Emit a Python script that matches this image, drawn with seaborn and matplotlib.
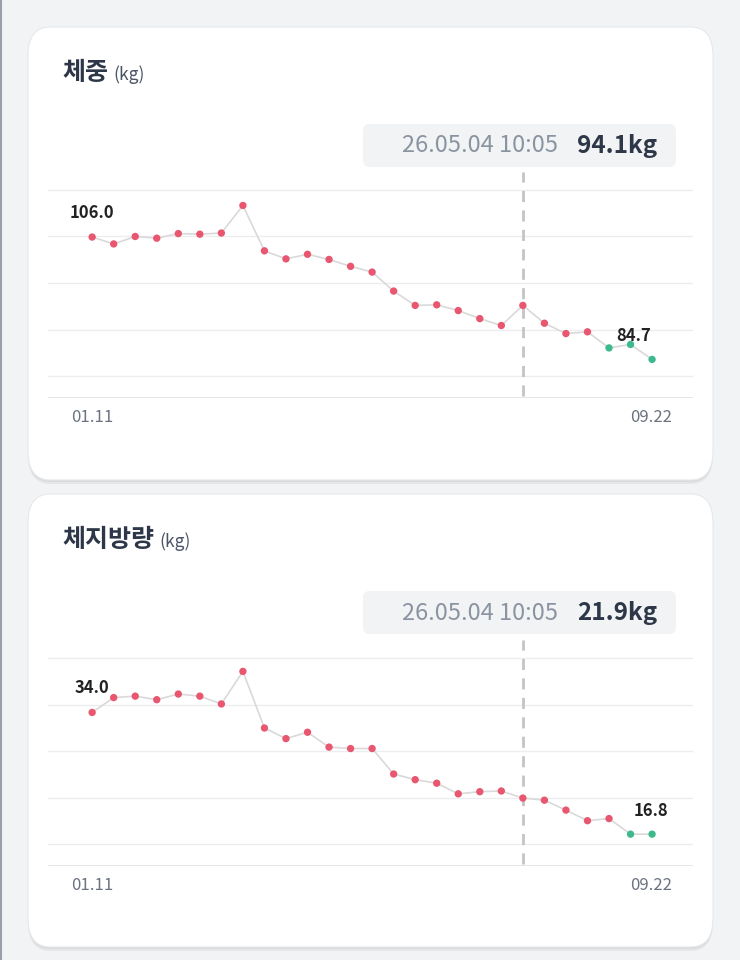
import numpy as np
import pandas as pd
import matplotlib
matplotlib.use("Agg")
import matplotlib.pyplot as plt
import seaborn as sns
from matplotlib.patches import FancyBboxPatch

sns.set_theme(style="white")
plt.rcParams['font.family'] = ['Noto Sans CJK KR', 'DejaVu Sans']

# data
weight = [106.0, 104.8, 106.1, 105.8, 106.6, 106.5, 106.7, 111.5, 103.6, 102.2,
          103.0, 102.1, 100.9, 99.9, 96.6, 94.1, 94.2, 93.2, 91.8, 90.6,
          94.1, 91.0, 89.2, 89.5, 86.7, 87.3, 84.7]
fat = [34.0, 36.1, 36.3, 35.8, 36.6, 36.3, 35.2, 39.8, 31.8, 30.3,
       31.2, 29.1, 28.9, 28.9, 25.3, 24.5, 24.0, 22.5, 22.8, 22.9,
       21.9, 21.6, 20.2, 18.7, 19.0, 16.8, 16.8]
weight_recent = 3
fat_recent = 2
first_date, last_date = "01.11", "09.22"
cursor_idx = 20
cursor_time = "26.05.04 10:05"
weight_grid = [114.2, 106.1, 98.0, 89.9, 81.8]
fat_grid = [41.7, 35.1, 28.5, 21.9, 15.4]

RED = "#e8566f"
GREEN = "#3dba8c"
DARK = "#2d3748"

fig = plt.figure(figsize=(7.4, 9.6), dpi=100)
fig.patch.set_facecolor("#f2f3f5")
W, H = 740, 960


def fx(px):
    return px / W


def fy(py):
    return 1 - py / H


# left edge line
fig.add_artist(plt.Line2D([fx(1), fx(1)], [0, 1], color="#9aa0a8", lw=1.5, zorder=-5))


def card(top, bottom):
    for off, a in [(4, 0.05), (2, 0.05)]:
        fig.add_artist(FancyBboxPatch((fx(28), fy(bottom + off)), fx(685), (bottom - top) / H,
                                      boxstyle="round,pad=0,rounding_size=0.03",
                                      transform=fig.transFigure, fc="#000000", alpha=a,
                                      ec="none", zorder=-4))
    fig.add_artist(FancyBboxPatch((fx(28), fy(bottom)), fx(685), (bottom - top) / H,
                                  boxstyle="round,pad=0,rounding_size=0.03",
                                  transform=fig.transFigure, fc="white", ec="#e6e8eb",
                                  lw=0.8, zorder=-3))


def panel(card_top, ax_top, values, recent, grid, title, cursor_val):
    card(card_top, card_top + 453)
    t = fig.text(fx(62), fy(card_top + 46), title, fontsize=18, fontweight="bold",
                 color=DARK, va="center")
    fig.canvas.draw()
    bb = t.get_window_extent()
    fig.text(bb.x1 / W + fx(5), fy(card_top + 48), "(kg)", fontsize=12.5,
             color="#4a5568", va="center")

    # tooltip
    fig.add_artist(FancyBboxPatch((fx(363), fy(card_top + 140)), fx(313), 43 / H,
                                  boxstyle="round,pad=0,rounding_size=0.008",
                                  transform=fig.transFigure, fc="#f1f3f5", ec="none",
                                  zorder=-2))
    fig.text(fx(558), fy(card_top + 119), cursor_time, fontsize=17, color="#8a94a0",
             ha="right", va="center")
    fig.text(fx(657), fy(card_top + 119), f"{cursor_val:.1f}kg", fontsize=17.5,
             fontweight="bold", color=DARK, ha="right", va="center")

    ax = fig.add_axes([fx(48), fy(ax_top + 226), fx(645), 226 / H])
    ax.patch.set_alpha(0)
    n = len(values)
    df = pd.DataFrame({"i": np.arange(n), "v": values,
                       "g": ["old"] * (n - recent) + ["new"] * recent})
    lo, hi = grid[-1], grid[0]
    step = (hi - lo) / 4
    px_per = 46.67 / step
    top_val = hi + 18 / px_per
    bot_val = lo - 22 / px_per
    ax.set_ylim(bot_val, top_val)
    ax.set_xlim(-2.05, 27.9)
    for g in grid:
        ax.axhline(g, color="#ebedf0", lw=1, zorder=0)
    ax.axhline(bot_val, color="#e2e4e8", lw=2, zorder=0)
    ax.axvline(cursor_idx, ymin=0.01, ymax=1, color="#c4c4c4", lw=2, ls=(0, (4, 3)), zorder=1)
    sns.lineplot(data=df, x="i", y="v", ax=ax, color="#d9d9d9", lw=1.2, zorder=2)
    sns.scatterplot(data=df, x="i", y="v", hue="g", palette={"old": RED, "new": GREEN},
                    ax=ax, s=28, edgecolor="none", legend=False, zorder=3)
    ax.annotate(f"{values[0]:.1f}", (0, values[0]), xytext=(0, 14), textcoords="offset points",
                ha="center", fontsize=12, fontweight="bold", color="#222222")
    ax.annotate(f"{values[-1]:.1f}", (n - 1, values[-1]), xytext=(-1, 13),
                textcoords="offset points", ha="right" if recent == 3 else "center",
                fontsize=12, fontweight="bold", color="#222222")
    ax.set_axis_off()
    fig.text(fx(92), fy(ax_top + 246), first_date, fontsize=12, color="#6b7280",
             ha="center", va="center")
    fig.text(fx(651), fy(ax_top + 246), last_date, fontsize=12, color="#6b7280",
             ha="center", va="center")


panel(27, 172, weight, weight_recent, weight_grid, "체중", weight[cursor_idx])
panel(494, 640, fat, fat_recent, fat_grid, "체지방량", fat[cursor_idx])

fig.savefig("out.png", dpi=100, facecolor=fig.get_facecolor())
